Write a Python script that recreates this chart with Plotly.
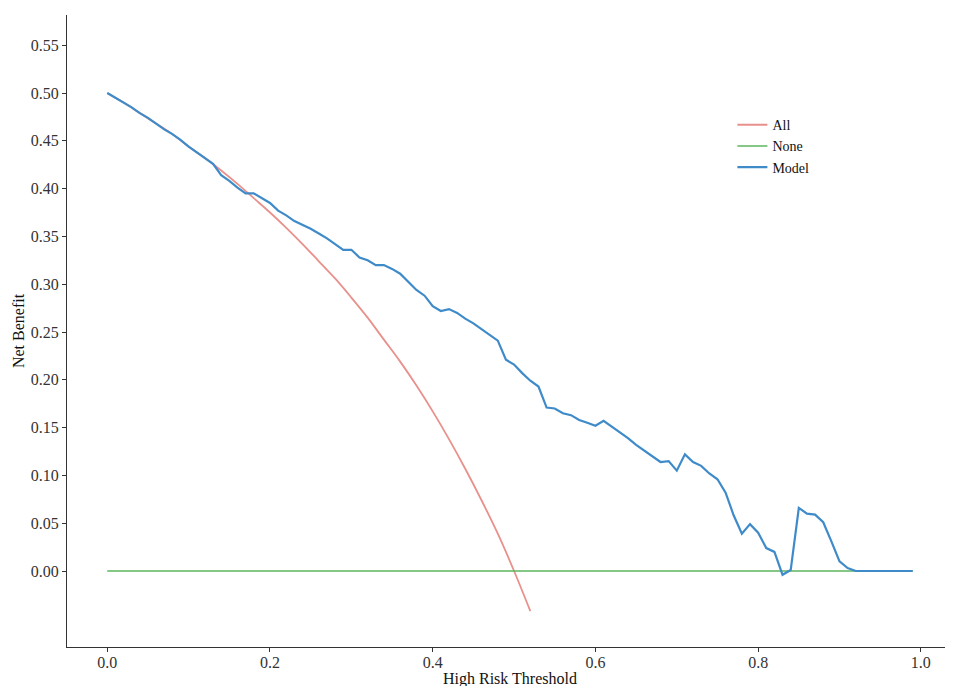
import plotly.graph_objects as go

# Threshold grid (step 0.01)
threshold = [round(i * 0.01, 2) for i in range(100)]

# "All" strategy curve (read at 0.02 steps up to 0.52)
all_x = [0.00, 0.02, 0.04, 0.06, 0.08, 0.10, 0.12, 0.14, 0.16, 0.18, 0.20, 0.22, 0.24,
         0.26, 0.28, 0.30, 0.32, 0.34, 0.36, 0.38, 0.40, 0.42, 0.44, 0.46, 0.48, 0.50, 0.52]
all_y = [0.500, 0.490, 0.479, 0.468, 0.457, 0.444, 0.432, 0.419, 0.405, 0.390, 0.375, 0.359, 0.342,
         0.324, 0.306, 0.286, 0.265, 0.242, 0.219, 0.194, 0.167, 0.138, 0.107, 0.074, 0.039, 0.000, -0.042]

# "None" strategy
none_y = [0.0] * 100

# "Model" curve
model_y = [0.500, 0.495, 0.490, 0.485, 0.479, 0.474, 0.468, 0.462, 0.457, 0.451,
           0.444, 0.438, 0.432, 0.426, 0.414, 0.408, 0.401, 0.395, 0.395, 0.390,
           0.385, 0.377, 0.372, 0.366, 0.362, 0.358, 0.353, 0.348, 0.342, 0.336,
           0.336, 0.328, 0.325, 0.320, 0.320, 0.316, 0.311, 0.303, 0.294, 0.288,
           0.277, 0.272, 0.274, 0.270, 0.264, 0.259, 0.253, 0.247, 0.241, 0.221,
           0.216, 0.207, 0.199, 0.193, 0.171, 0.170, 0.165, 0.163, 0.158, 0.155,
           0.152, 0.157, 0.151, 0.145, 0.139, 0.132, 0.126, 0.120, 0.114, 0.115,
           0.105, 0.122, 0.114, 0.110, 0.102, 0.096, 0.082, 0.058, 0.039, 0.049,
           0.040, 0.024, 0.020, -0.004, 0.001, 0.066, 0.060, 0.059, 0.051, 0.031,
           0.010, 0.003, 0.000, 0.000, 0.000, 0.000, 0.000, 0.000, 0.000, 0.000]

x_ticks = [0.0, 0.2, 0.4, 0.6, 0.8, 1.0]
x_tick_labels = ["0.0", "0.2", "0.4", "0.6", "0.8", "1.0"]
y_ticks = [0.00, 0.05, 0.10, 0.15, 0.20, 0.25, 0.30, 0.35, 0.40, 0.45, 0.50, 0.55]
y_tick_labels = ["0.00", "0.05", "0.10", "0.15", "0.20", "0.25", "0.30", "0.35", "0.40", "0.45", "0.50", "0.55"]

FONT = "Liberation Serif, Times New Roman, serif"

fig = go.Figure()
fig.add_trace(go.Scatter(x=all_x, y=all_y, mode="lines", name="All",
                         line=dict(color="#E8918C", width=1.8), line_shape="spline"))
fig.add_trace(go.Scatter(x=threshold, y=none_y, mode="lines", name="None",
                         line=dict(color="#5CB55C", width=1.6)))
fig.add_trace(go.Scatter(x=threshold, y=model_y, mode="lines", name="Model",
                         line=dict(color="#3F8BC9", width=2.2)))

fig.add_annotation(text="High Risk Threshold", xref="paper", yref="paper",
                   x=0.5, y=-0.05, xanchor="center", yanchor="middle", showarrow=False,
                   font=dict(family=FONT, size=16, color="#111"))

fig.update_layout(
    width=953, height=686,
    margin=dict(l=59, r=8, t=7, b=47),
    paper_bgcolor="white", plot_bgcolor="white",
    font=dict(family=FONT, size=16, color="#222"),
    showlegend=True,
    legend=dict(x=0.751, y=0.851, xanchor="left", yanchor="top",
                bgcolor="rgba(0,0,0,0)", font=dict(family=FONT, size=14, color="#111"),
                itemwidth=30, tracegroupgap=0),
    xaxis=dict(range=[-0.0495, 1.0395], tickvals=x_ticks, ticktext=x_tick_labels,
               showgrid=False, zeroline=False, showline=True, linecolor="#333", linewidth=1.2,
               ticks="outside", ticklen=4, tickcolor="#333", automargin=False,
               ticklabelstandoff=-3,
               tickfont=dict(family=FONT, size=16, color="#333")),
    yaxis=dict(range=[-0.0795, 0.5816], tickvals=y_ticks, ticktext=y_tick_labels,
               showgrid=False, zeroline=False, showline=True, linecolor="#333", linewidth=1.2,
               ticks="outside", ticklen=4, tickcolor="#333", automargin=False,
               tickfont=dict(family=FONT, size=16, color="#333"),
               title=dict(text="Net Benefit", font=dict(family=FONT, size=16, color="#111"),
                          standoff=2)),
)

fig.write_html("out.html")
